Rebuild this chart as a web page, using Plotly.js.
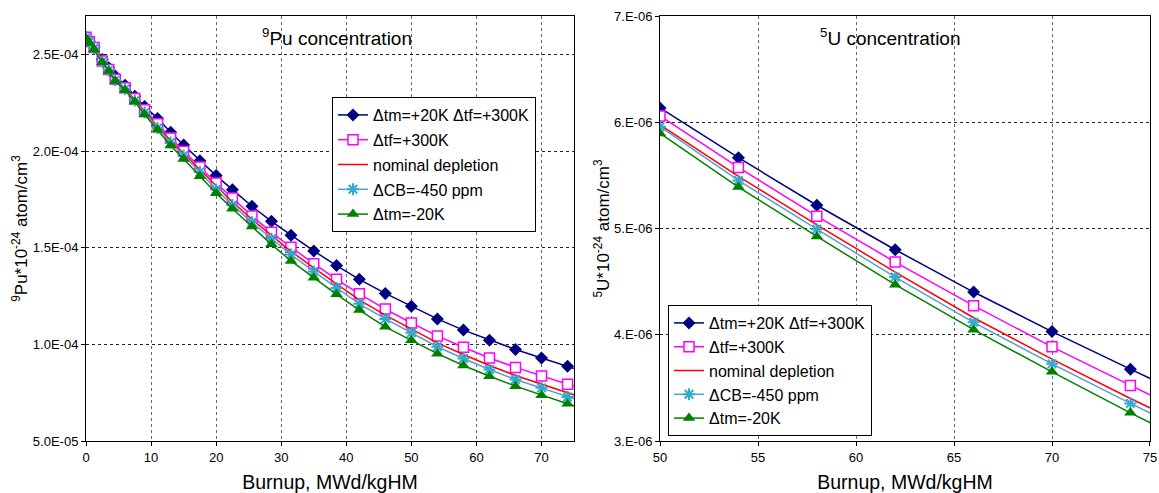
<!DOCTYPE html>
<html>
<head>
<meta charset="utf-8">
<script src="https://cdn.plot.ly/plotly-3.0.1.min.js"></script>
<style>
  html, body { margin: 0; padding: 0; background: #fff; }
  #chart { width: 1159px; height: 493px; }
</style>
</head>
<body>
<div id="chart"></div>
<script>
// ---------------- Data ----------------
const seriesNames = ["\u0394tm=+20K \u0394tf=+300K", "\u0394tf=+300K", "nominal depletion", "\u0394CB=-450 ppm", "\u0394tm=-20K"];

// Left panel: Pu-239 concentration vs burnup
const puBurnup = [0, 0.5, 1.25, 2.5, 3.5, 4.5, 6, 7.5, 9, 11, 13, 15, 17.5, 20, 22.5, 25.5, 28.5, 31.5, 35, 38.5, 42, 46, 50, 54, 58, 62, 66, 70, 74, 78];
const puHotBoth = [2.59e-4, 2.57e-4, 2.54e-4, 2.475e-4, 2.432e-4, 2.389e-4, 2.342e-4, 2.284e-4, 2.232e-4, 2.17e-4, 2.098e-4, 2.032e-4, 1.951e-4, 1.874e-4, 1.801e-4, 1.715e-4, 1.637e-4, 1.565e-4, 1.484e-4, 1.408e-4, 1.337e-4, 1.264e-4, 1.197e-4, 1.132e-4, 1.074e-4, 1.022e-4, 0.974e-4, 0.930e-4, 0.887e-4, 0.842e-4];
const puHotFuel = [2.59e-4, 2.568e-4, 2.537e-4, 2.467e-4, 2.423e-4, 2.372e-4, 2.329e-4, 2.273e-4, 2.215e-4, 2.142e-4, 2.068e-4, 2.0e-4, 1.918e-4, 1.835e-4, 1.758e-4, 1.665e-4, 1.580e-4, 1.503e-4, 1.418e-4, 1.337e-4, 1.262e-4, 1.183e-4, 1.111e-4, 1.044e-4, 0.985e-4, 0.930e-4, 0.881e-4, 0.836e-4, 0.794e-4, 0.752e-4];
const puNominal = [2.588e-4, 2.566e-4, 2.535e-4, 2.467e-4, 2.422e-4, 2.371e-4, 2.326e-4, 2.267e-4, 2.206e-4, 2.128e-4, 2.055e-4, 1.988e-4, 1.905e-4, 1.816e-4, 1.737e-4, 1.648e-4, 1.563e-4, 1.482e-4, 1.396e-4, 1.311e-4, 1.230e-4, 1.152e-4, 1.080e-4, 1.008e-4, 0.948e-4, 0.891e-4, 0.839e-4, 0.793e-4, 0.748e-4, 0.705e-4];
const puBoron = [2.588e-4, 2.565e-4, 2.533e-4, 2.465e-4, 2.420e-4, 2.368e-4, 2.322e-4, 2.262e-4, 2.200e-4, 2.120e-4, 2.045e-4, 1.978e-4, 1.893e-4, 1.802e-4, 1.722e-4, 1.632e-4, 1.547e-4, 1.465e-4, 1.378e-4, 1.292e-4, 1.210e-4, 1.132e-4, 1.060e-4, 0.988e-4, 0.927e-4, 0.870e-4, 0.818e-4, 0.775e-4, 0.728e-4, 0.686e-4];
const puCold = [2.586e-4, 2.560e-4, 2.527e-4, 2.460e-4, 2.415e-4, 2.364e-4, 2.316e-4, 2.256e-4, 2.190e-4, 2.111e-4, 2.030e-4, 1.960e-4, 1.871e-4, 1.783e-4, 1.702e-4, 1.610e-4, 1.518e-4, 1.432e-4, 1.345e-4, 1.259e-4, 1.178e-4, 1.091e-4, 1.021e-4, 0.952e-4, 0.891e-4, 0.835e-4, 0.784e-4, 0.737e-4, 0.693e-4, 0.652e-4];
const puTickVals = [5e-5, 1e-4, 1.5e-4, 2e-4, 2.5e-4];
const puTickText = ["5.0E-05", "1.0E-04", "1.5E-04", "2.0E-04", "2.5E-04"];

// Right panel: U-235 concentration vs burnup
const uBurnup = [50, 54, 58, 62, 66, 70, 74, 78];
const uHotBoth = [6.135e-6, 5.666e-6, 5.219e-6, 4.800e-6, 4.402e-6, 4.030e-6, 3.676e-6, 3.33e-6];
const uHotFuel = [6.06e-6, 5.575e-6, 5.116e-6, 4.684e-6, 4.274e-6, 3.886e-6, 3.523e-6, 3.17e-6];
const uNominal = [5.975e-6, 5.49e-6, 5.035e-6, 4.59e-6, 4.16e-6, 3.77e-6, 3.40e-6, 3.05e-6];
const uBoron = [5.958e-6, 5.452e-6, 4.994e-6, 4.543e-6, 4.117e-6, 3.726e-6, 3.354e-6, 3.0e-6];
const uCold = [5.895e-6, 5.39e-6, 4.925e-6, 4.471e-6, 4.048e-6, 3.651e-6, 3.265e-6, 2.90e-6];
const uTickVals = [3e-6, 4e-6, 5e-6, 6e-6, 7e-6];
const uTickText = ["3.E-06", "4.E-06", "5.E-06", "6.E-06", "7.E-06"];

// ---------------- Styles ----------------
const styles = [
  { line: { color: "#000080", width: 1.5 }, marker: { symbol: "diamond", size: 10, color: "#000080" }, mode: "lines+markers" },
  { line: { color: "#ff00ff", width: 1.5 }, marker: { symbol: "square", size: 10, color: "#ffffff", line: { color: "#ff00ff", width: 1.5 } }, mode: "lines+markers" },
  { line: { color: "#ff0000", width: 1.5 }, mode: "lines" },
  { line: { color: "#5b9bd5", width: 1.5 }, marker: { symbol: "asterisk-open", size: 10, color: "#33aacc", line: { color: "#33aacc", width: 2 } }, mode: "lines+markers" },
  { line: { color: "#008000", width: 1.5 }, marker: { symbol: "triangle-up", size: 11, color: "#008000" }, mode: "lines+markers" }
];

const puSeries = [puHotBoth, puHotFuel, puNominal, puBoron, puCold];
const uSeries = [uHotBoth, uHotFuel, uNominal, uBoron, uCold];

const traces = [];
puSeries.forEach((ys, i) => {
  traces.push(Object.assign({
    type: "scatter", x: puBurnup, y: ys, name: seriesNames[i],
    xaxis: "x", yaxis: "y", legend: "legend", legendgroup: "p" + i, cliponaxis: true
  }, JSON.parse(JSON.stringify(styles[i]))));
});
uSeries.forEach((ys, i) => {
  traces.push(Object.assign({
    type: "scatter", x: uBurnup, y: ys, name: seriesNames[i],
    xaxis: "x2", yaxis: "y2", legend: "legend2", legendgroup: "u" + i, cliponaxis: true
  }, JSON.parse(JSON.stringify(styles[i]))));
});

const FONT = "Arial, 'Liberation Sans', sans-serif";
const axisCommon = {
  showline: true, mirror: true, linecolor: "#000", linewidth: 1,
  ticks: "outside", ticklen: 4, tickcolor: "#000",
  showgrid: true, griddash: "dot", zeroline: false,
  tickfont: { family: FONT, size: 13, color: "#000" }
};

const legendCommon = {
  bgcolor: "#ffffff", bordercolor: "#000", borderwidth: 1,
  font: { family: FONT, size: 16, color: "#000" },
  traceorder: "grouped",
  xanchor: "left", yanchor: "top", itemclick: false
};

const xTitleFont = { family: FONT, size: 19.5, color: "#000" };
const yTitleFont = { family: FONT, size: 17, color: "#000" };

// plot area: x from 86 to 1150 px, y from 16 to 441 px
const layout = {
  width: 1159, height: 493,
  paper_bgcolor: "#fff", plot_bgcolor: "#fff",
  margin: { l: 86, r: 9, t: 16, b: 52 },
  showlegend: true,
  font: { family: FONT, color: "#000" },
  xaxis: Object.assign({}, axisCommon, {
    domain: [0, 0.4587], range: [0, 75], tickvals: [0, 10, 20, 30, 40, 50, 60, 70],
    gridcolor: "#666",
    title: { text: "Burnup, MWd/kgHM", font: xTitleFont, standoff: 12 }
  }),
  yaxis: Object.assign({}, axisCommon, {
    domain: [0, 1], range: [5e-5, 2.7e-4], tickvals: puTickVals, ticktext: puTickText,
    gridcolor: "#222",
    title: { text: "<sup>9</sup>Pu*10<sup>-24</sup> atom/cm<sup>3</sup>", font: yTitleFont, standoff: 0 }
  }),
  xaxis2: Object.assign({}, axisCommon, {
    domain: [0.5395, 1.0], range: [50, 75], tickvals: [50, 55, 60, 65, 70, 75],
    gridcolor: "#666", anchor: "y2",
    title: { text: "Burnup, MWd/kgHM", font: xTitleFont, standoff: 12 }
  }),
  yaxis2: Object.assign({}, axisCommon, {
    domain: [0, 1], range: [3e-6, 7e-6], tickvals: uTickVals, ticktext: uTickText,
    gridcolor: "#222", anchor: "x2",
    title: { text: "<sup>5</sup>U*10<sup>-24</sup> atom/cm<sup>3</sup>", font: yTitleFont, standoff: 0 }
  }),
  legend: Object.assign({}, legendCommon, { x: 0.2312, y: 0.8094, tracegroupgap: 1 }),
  legend2: Object.assign({}, legendCommon, { x: 0.5470, y: 0.32, tracegroupgap: 0 }),
  annotations: [
    { xref: "paper", yref: "paper", x: 0.2359, y: 0.9505, xanchor: "center", yanchor: "middle", showarrow: false,
      text: "<sup>9</sup>Pu concentration", font: { family: FONT, size: 19, color: "#000" } },
    { xref: "paper", yref: "paper", x: 0.7556, y: 0.9505, xanchor: "center", yanchor: "middle", showarrow: false,
      text: "<sup>5</sup>U concentration", font: { family: FONT, size: 19, color: "#000" } }
  ]
};

Plotly.newPlot("chart", traces, layout, { displayModeBar: false, staticPlot: true });
</script>
</body>
</html>
